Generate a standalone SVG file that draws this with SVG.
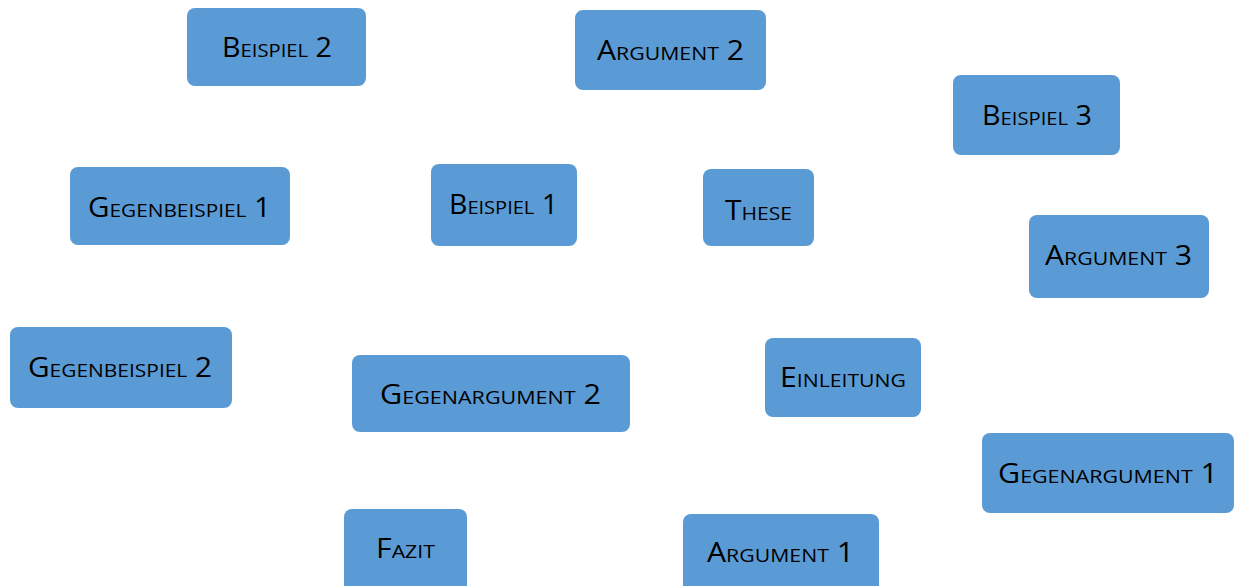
<svg xmlns="http://www.w3.org/2000/svg" width="1235" height="586" viewBox="0 0 1235 586">
<style>
.b{fill:#5B9BD5;}
.t{font-family:"Open Sans","Liberation Sans",sans-serif;font-size:27px;font-variant:small-caps;fill:#000;text-anchor:middle;}
</style>
<rect width="1235" height="586" fill="#fff"/>
<g id="connectors"></g>
<g id="beispiel2"><rect class="b" x="187" y="8" width="179" height="78" rx="8"/><text class="t" x="277" y="57" textLength="110" lengthAdjust="spacingAndGlyphs">Beispiel 2</text></g>
<g id="argument2"><rect class="b" x="575" y="10" width="191" height="80" rx="8"/><text class="t" x="670.5" y="60" textLength="147" lengthAdjust="spacingAndGlyphs">Argument 2</text></g>
<g id="beispiel3"><rect class="b" x="953" y="75" width="167" height="80" rx="8"/><text class="t" x="1037" y="125" textLength="110" lengthAdjust="spacingAndGlyphs">Beispiel 3</text></g>
<g id="gegenbeispiel1"><rect class="b" x="70" y="167" width="220" height="78" rx="8"/><text class="t" x="179.5" y="217" textLength="183" lengthAdjust="spacingAndGlyphs">Gegenbeispiel 1</text></g>
<g id="beispiel1"><rect class="b" x="431" y="164" width="146" height="82" rx="8"/><text class="t" x="503.5" y="214" textLength="109" lengthAdjust="spacingAndGlyphs">Beispiel 1</text></g>
<g id="these"><rect class="b" x="703" y="169" width="111" height="77" rx="8"/><text class="t" x="758.5" y="220" textLength="67" lengthAdjust="spacingAndGlyphs">These</text></g>
<g id="argument3"><rect class="b" x="1029" y="215" width="180" height="83" rx="8"/><text class="t" x="1118.5" y="265" textLength="147" lengthAdjust="spacingAndGlyphs">Argument 3</text></g>
<g id="gegenbeispiel2"><rect class="b" x="10" y="327" width="222" height="81" rx="8"/><text class="t" x="120" y="377" textLength="184" lengthAdjust="spacingAndGlyphs">Gegenbeispiel 2</text></g>
<g id="gegenargument2"><rect class="b" x="352" y="355" width="278" height="77" rx="8"/><text class="t" x="490.5" y="404" textLength="221" lengthAdjust="spacingAndGlyphs">Gegenargument 2</text></g>
<g id="einleitung"><rect class="b" x="765" y="338" width="156" height="79" rx="8"/><text class="t" x="843" y="387" textLength="126" lengthAdjust="spacingAndGlyphs">Einleitung</text></g>
<g id="gegenargument1"><rect class="b" x="982" y="433" width="252" height="80" rx="8"/><text class="t" x="1108" y="483" textLength="220" lengthAdjust="spacingAndGlyphs">Gegenargument 1</text></g>
<g id="fazit"><rect class="b" x="344" y="509" width="123" height="90" rx="8"/><text class="t" x="405.5" y="558" textLength="59" lengthAdjust="spacingAndGlyphs">Fazit</text></g>
<g id="argument1"><rect class="b" x="683" y="514" width="196" height="90" rx="8"/><text class="t" x="780.5" y="562" textLength="147" lengthAdjust="spacingAndGlyphs">Argument 1</text></g>
</svg>
